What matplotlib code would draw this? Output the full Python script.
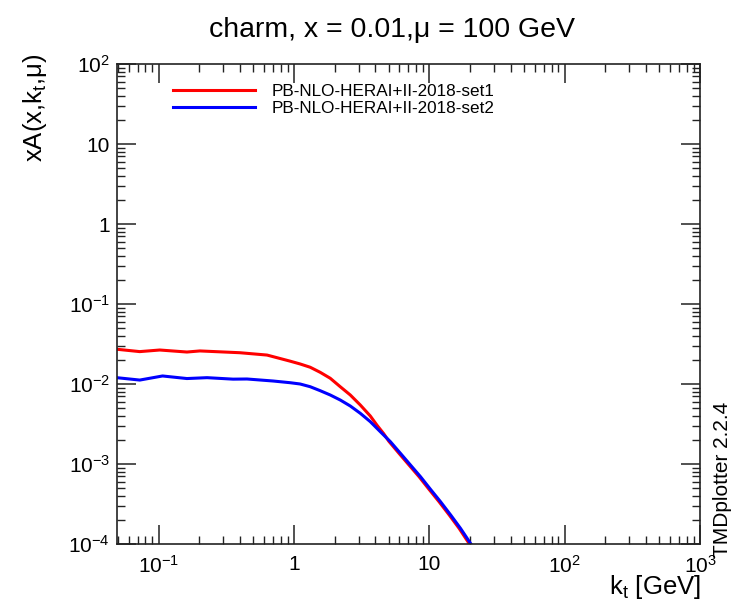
import numpy as np
import matplotlib
matplotlib.use("Agg")
import matplotlib.pyplot as plt
from matplotlib.ticker import LogLocator, FuncFormatter, NullFormatter

plt.rcParams['font.family'] = ['Liberation Sans', 'DejaVu Sans']
plt.rcParams['mathtext.fontset'] = 'custom'
plt.rcParams['mathtext.rm'] = 'Liberation Sans'
plt.rcParams['mathtext.it'] = 'Liberation Sans:italic'
plt.rcParams['mathtext.default'] = 'regular'

# TMD densities, charm, x = 0.01, mu = 100 GeV
kt_set1 = [0.049, 0.0726, 0.102, 0.162, 0.202, 0.399, 0.633, 0.937, 1.111, 1.318,
           1.563, 1.854, 2.198, 2.608, 3.093, 3.667, 4.11, 4.6, 5.03, 5.97,
           7.08, 8.4, 9.95, 11.8, 14.05, 16.6, 19.8]
xa_set1 = [0.0272, 0.0254, 0.0266, 0.0251, 0.0259, 0.0246, 0.0230, 0.0193, 0.0178, 0.0162,
           0.0140, 0.0118, 0.00925, 0.00729, 0.00546, 0.00398, 0.00305, 0.0024, 0.00192, 0.00136,
           9.71e-4, 6.94e-4, 4.83e-4, 3.38e-4, 2.30e-4, 1.57e-4, 1.0e-4]

kt_set2 = [0.049, 0.0726, 0.107, 0.162, 0.228, 0.355, 0.45, 0.702, 0.937, 1.111,
           1.318, 1.563, 1.854, 2.198, 2.608, 3.093, 3.667, 4.35, 5.16, 6.12,
           7.26, 8.61, 10.2, 12.1, 14.4, 17.0, 20.3]
xa_set2 = [0.0120, 0.0112, 0.0126, 0.0117, 0.0120, 0.0115, 0.01155, 0.0109, 0.01038, 0.0100,
           0.00925, 0.00825, 0.00729, 0.00631, 0.00531, 0.00430, 0.00338, 0.00253, 0.00190, 0.00136,
           9.71e-4, 6.94e-4, 4.83e-4, 3.38e-4, 2.30e-4, 1.57e-4, 1.0e-4]

labels = ["PB-NLO-HERAI+II-2018-set1", "PB-NLO-HERAI+II-2018-set2"]


def root_log_fmt(v, pos):
    e = int(round(np.log10(v)))
    if e == 0:
        return "1"
    if e == 1:
        return "10"
    return r"$10^{%d}$" % e


fig = plt.figure(figsize=(7.33, 6.0), dpi=100)
ax = fig.add_axes([117 / 733, 1 - 544 / 600, 583 / 733, 480 / 600])

ax.plot(kt_set1, xa_set1, color="#ff0000", lw=2.2, label=labels[0])
ax.plot(kt_set2, xa_set2, color="#0000ff", lw=2.2, label=labels[1])

ax.set_xscale("log")
ax.set_yscale("log")
ax.set_xlim(0.0493, 1000)
ax.set_ylim(1e-4, 100)

for axis in (ax.xaxis, ax.yaxis):
    axis.set_major_locator(LogLocator(base=10, numticks=20))
    axis.set_minor_locator(LogLocator(base=10, subs=np.arange(2, 10), numticks=20))
    axis.set_major_formatter(FuncFormatter(root_log_fmt))
    axis.set_minor_formatter(NullFormatter())

ax.tick_params(which="both", direction="in", top=True, right=True, colors="#222222",
               labelcolor="black", labelsize=15)
ax.tick_params(which="major", length=14, width=1.1)
ax.tick_params(which="minor", length=6, width=1.0)
ax.tick_params(axis="x", pad=8)
ax.tick_params(axis="y", pad=5)
for s in ax.spines.values():
    s.set_linewidth(1.2)
    s.set_color("#222222")

leg = ax.legend(loc="upper left", bbox_to_anchor=(0.096, 0.959), frameon=False,
                fontsize=12.3, handlelength=4.8, handletextpad=1.0, labelspacing=0.12,
                borderpad=0, borderaxespad=0)
for line in leg.get_lines():
    line.set_linewidth(2.2)

fig.text(392 / 733, 1 - 30 / 600, "charm, x = 0.01,μ = 100 GeV", ha="center", va="center",
         fontsize=20.5)
fig.text(35 / 733, 1 - 54 / 600, r"xA(x,k$_\mathrm{t}$,μ)", rotation=90, ha="center",
         va="top", fontsize=18.5)
fig.text(701 / 733, 1 - 594 / 600, r"k$_\mathrm{t}$ [GeV]", ha="right", va="baseline",
         fontsize=18.5)
fig.text(722 / 733, 1 - 557 / 600, "TMDplotter 2.2.4", rotation=90, ha="center",
         va="bottom", fontsize=15)

fig.savefig("out.png", dpi=100)
